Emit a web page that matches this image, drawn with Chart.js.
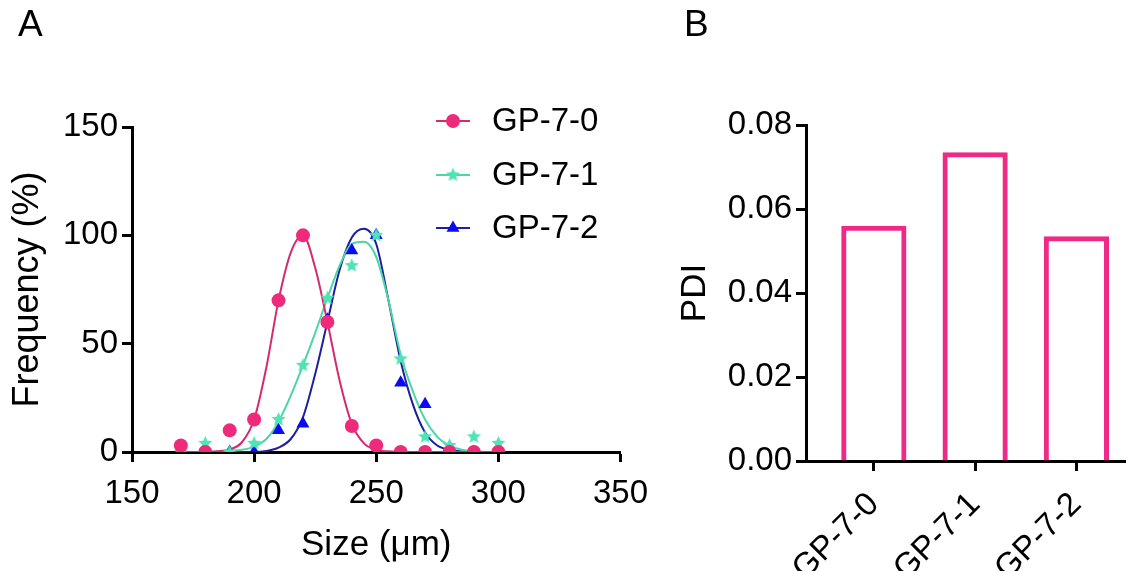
<!DOCTYPE html>
<html lang="en">
<head>
    <meta charset="UTF-8">
    <title>Size distribution and PDI</title>
    <script src="https://cdn.jsdelivr.net/npm/chart.js"></script>
    <style>
        body {
            margin: 0;
            background: #fff;
            font-family: 'Liberation Sans', Arial, sans-serif;
        }
        #wrap {
            position: relative;
            width: 1136px;
            height: 571px;
        }
        canvas {
            position: absolute;
            top: 0;
        }
        #sizeChart { left: 0; }
        #pdiChart { left: 660px; }
        .panel {
            position: absolute;
            top: 5px;
            font-size: 37px;
            line-height: 37px;
            color: #000;
        }
    </style>
</head>
<body>
<div id="wrap">
    <canvas id="sizeChart" width="660" height="571"></canvas>
    <canvas id="pdiChart" width="476" height="571"></canvas>
    <div class="panel" style="left:18px">A</div>
    <div class="panel" style="left:684px">B</div>
</div>

<script>
    // ---- data ----
    const seriesNames = ['GP-7-0', 'GP-7-1', 'GP-7-2'];

    // measured points, Size (µm) vs Frequency (%)
    const sizes = [170, 180, 190, 200, 210, 220, 230, 240, 250, 260, 270, 280, 290, 300];
    const freq0 = [3, 0, 10, 15, 70, 100, 60, 12, 3, 0, 0, 0, 0, 0];
    const freq1 = [0, 4, 0, 4, 15, 40, 71, 86, 100, 43, 7, 3, 7, 4];
    const freq2 = [0, 0, 0, 0, 10, 13, 61, 93, 100, 32, 22, 0, 0, 0];

    // fitted curves, read every 5 µm
    const fitSizes = [170, 175, 180, 185, 190, 195, 200, 205, 210, 215, 220, 225, 230, 235,
                      240, 245, 250, 255, 260, 265, 270, 275, 280, 285, 290, 295, 300];
    const fit0 = [0, 0, 0, 0.3, 1.2, 4.5, 15, 39, 70, 92, 100, 85, 60, 33,
                  13, 4, 1, 0.3, 0, 0, 0, 0, 0, 0, 0, 0, 0];
    const fit1 = [0, 0, 0, 0.2, 0.5, 1, 2.5, 6, 14, 26, 40, 55, 71, 86,
                  96, 97, 90, 70, 45, 28, 15, 7, 3, 1, 0.3, 0, 0];
    const fit2 = [0, 0, 0, 0, 0, 0, 0, 0.5, 2, 6, 16, 36, 60, 84,
                  99, 103, 96, 70, 42, 22, 9, 3, 1, 0.3, 0, 0, 0];

    const xTicksA = [150, 200, 250, 300, 350];
    const yTicksA = [0, 50, 100, 150];

    // PDI bars
    const pdiGroups = ['GP-7-0', 'GP-7-1', 'GP-7-2'];
    const pdiValues = [0.056, 0.0735, 0.0535];
    const yTicksB = [0, 0.02, 0.04, 0.06, 0.08];

    // ---- styling ----
    const FONT = "'Liberation Sans', Arial, sans-serif";
    Chart.defaults.font.family = FONT;
    Chart.defaults.color = '#000';

    const pink = '#EE2A7B', pinkLine = '#D62A70';
    const green = '#4FE3B5', greenLine = '#4CD6A8';
    const blue = '#0A0AF5', blueLine = '#1E1EA0';
    const barPink = '#EE2A86';

    function makeStar(color, r) {
        const c = document.createElement('canvas');
        const s = Math.ceil(r * 2) + 2;
        c.width = c.height = s;
        const g = c.getContext('2d');
        g.fillStyle = color;
        g.beginPath();
        for (let i = 0; i < 10; i++) {
            const rad = i % 2 === 0 ? r : r * 0.45;
            const a = -Math.PI / 2 + i * Math.PI / 5;
            g.lineTo(s / 2 + rad * Math.cos(a), s / 2 + rad * Math.sin(a));
        }
        g.closePath();
        g.fill();
        return c;
    }
    const starImg = makeStar(green, 7.5);

    const pts = (xs, ys) => xs.map((x, i) => ({x: x, y: ys[i]}));

    // legend drawn like the original: line sample with marker in the middle
    const lineLegend = {
        id: 'lineLegend',
        afterDraw(chart) {
            const ctx = chart.ctx;
            const rows = [121, 175, 228];
            const x0 = 436, x1 = 470, xm = 453, tx = 492;
            ctx.save();
            seriesNames.forEach((name, i) => {
                const pd = chart.data.datasets[i];
                const ld = chart.data.datasets[i + 3];
                const y = rows[i];
                ctx.strokeStyle = ld.borderColor;
                ctx.lineWidth = 2;
                ctx.beginPath();
                ctx.moveTo(x0, y);
                ctx.lineTo(x1, y);
                ctx.stroke();
                ctx.fillStyle = pd.backgroundColor;
                if (pd.pointStyle === 'circle') {
                    ctx.beginPath();
                    ctx.arc(xm, y, 7, 0, Math.PI * 2);
                    ctx.fill();
                } else if (pd.pointStyle === 'triangle') {
                    const r = 7.5;
                    ctx.beginPath();
                    for (let k = 0; k < 3; k++) {
                        const a = k * 2 * Math.PI / 3;
                        ctx.lineTo(xm + Math.sin(a) * r, y - Math.cos(a) * r);
                    }
                    ctx.closePath();
                    ctx.fill();
                } else {
                    ctx.drawImage(starImg, xm - starImg.width / 2, y - starImg.height / 2);
                }
                ctx.fillStyle = '#000';
                ctx.font = '33px ' + FONT;
                ctx.textBaseline = 'middle';
                ctx.textAlign = 'left';
                ctx.fillText(name, tx, y + 1);
            });
            ctx.restore();
        }
    };

    const axisCommon = {
        border: {color: '#000', width: 3},
        grid: {drawOnChartArea: false, drawTicks: true, tickLength: 10, tickWidth: 3, tickColor: '#000', offset: false}
    };

    // ---- panel A ----
    new Chart(document.getElementById('sizeChart'), {
        type: 'scatter',
        data: {
            datasets: [
                {label: seriesNames[0], data: pts(sizes, freq0), pointStyle: 'circle', pointRadius: 7,
                 backgroundColor: pink, borderColor: pink, borderWidth: 0, order: 1},
                {label: seriesNames[1], data: pts(sizes, freq1), pointStyle: starImg, pointRadius: 7,
                 backgroundColor: green, borderColor: green, borderWidth: 0, order: 2},
                {label: seriesNames[2], data: pts(sizes, freq2), pointStyle: 'triangle', pointRadius: 7.5,
                 backgroundColor: blue, borderColor: blue, borderWidth: 0, order: 3},
                {label: seriesNames[0] + ' fit', data: pts(fitSizes, fit0), showLine: true, pointRadius: 0,
                 borderColor: pinkLine, borderWidth: 2, cubicInterpolationMode: 'monotone', order: 4},
                {label: seriesNames[1] + ' fit', data: pts(fitSizes, fit1), showLine: true, pointRadius: 0,
                 borderColor: greenLine, borderWidth: 2, cubicInterpolationMode: 'monotone', order: 5},
                {label: seriesNames[2] + ' fit', data: pts(fitSizes, fit2), showLine: true, pointRadius: 0,
                 borderColor: blueLine, borderWidth: 2, cubicInterpolationMode: 'monotone', order: 6}
            ]
        },
        options: {
            responsive: false,
            animation: false,
            layout: {padding: {left: 0, top: 127, right: 36, bottom: 0}},
            plugins: {legend: {display: false}, tooltip: {enabled: false}},
            scales: {
                x: {
                    type: 'linear', min: xTicksA[0], max: xTicksA[xTicksA.length - 1],
                    ...axisCommon,
                    afterBuildTicks: s => { s.ticks = xTicksA.map(v => ({value: v})); },
                    afterFit: s => { s.height = 119; },
                    ticks: {font: {size: 33}, color: '#000', padding: 12, maxRotation: 0},
                    title: {display: true, text: 'Size (μm)', color: '#000',
                            font: {size: 35, lineHeight: 1.2}, padding: {top: 0, bottom: 5}}
                },
                y: {
                    type: 'linear', min: yTicksA[0], max: yTicksA[yTicksA.length - 1],
                    ...axisCommon,
                    afterBuildTicks: s => { s.ticks = yTicksA.map(v => ({value: v})); },
                    afterFit: s => { s.width = 132; },
                    ticks: {font: {size: 33}, color: '#000', padding: 4},
                    title: {display: true, text: 'Frequency (%)', color: '#000',
                            font: {size: 36, lineHeight: 1.2}, padding: {top: 6, bottom: 0}}
                }
            }
        },
        plugins: [lineLegend]
    });

    // ---- panel B ----
    new Chart(document.getElementById('pdiChart'), {
        type: 'bar',
        data: {
            datasets: [{
                label: 'PDI',
                data: pdiValues.map((v, i) => ({x: i, y: v})),
                backgroundColor: 'rgba(255,255,255,0)',
                borderColor: barPink,
                borderWidth: 5,
                borderSkipped: 'start',
                barPercentage: 0.644,
                categoryPercentage: 1
            }]
        },
        options: {
            responsive: false,
            animation: false,
            layout: {padding: {left: 0, top: 125, right: 11, bottom: 0}},
            plugins: {legend: {display: false}, tooltip: {enabled: false}},
            scales: {
                x: {
                    type: 'linear', min: -0.67, max: 2.48, offset: false,
                    ...axisCommon,
                    afterBuildTicks: s => { s.ticks = pdiGroups.map((g, i) => ({value: i})); },
                    afterFit: s => { s.height = 110; },
                    ticks: {font: {size: 33}, color: '#000', padding: 14, minRotation: 45, maxRotation: 45,
                            autoSkip: false, callback: v => pdiGroups[Math.round(v)]}
                },
                y: {
                    type: 'linear', min: yTicksB[0], max: yTicksB[yTicksB.length - 1],
                    ...axisCommon,
                    afterBuildTicks: s => { s.ticks = yTicksB.map(v => ({value: v})); },
                    afterFit: s => { s.width = 146; },
                    ticks: {font: {size: 33}, color: '#000', padding: 4, callback: v => v.toFixed(2)},
                    title: {display: true, text: 'PDI', color: '#000',
                            font: {size: 35, lineHeight: 1.2}, padding: {top: 14, bottom: 0}}
                }
            }
        }
    });
</script>
</body>
</html>
